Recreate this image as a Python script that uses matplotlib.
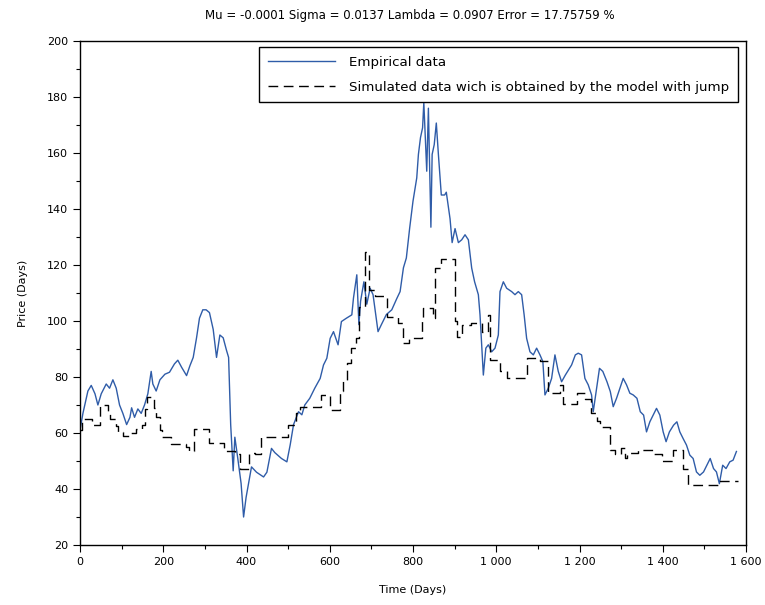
import numpy as np
import matplotlib
matplotlib.use('Agg')
import matplotlib.pyplot as plt
from matplotlib.ticker import MultipleLocator, FuncFormatter

# empirical price series
emp_days = [0, 7, 19, 27, 36, 43, 51, 63, 71, 79, 87, 95, 103, 112, 120, 124, 131, 139, 147, 155,
            163, 171, 175, 183, 192, 204, 215, 227, 235, 244, 256, 264, 272, 280, 287, 295, 303, 311,
            320, 328, 336, 344, 352, 357, 362, 368, 372, 379, 387, 393, 399,
            412, 424, 441, 449, 460, 468, 484, 497, 505, 513, 525, 533, 540, 552, 564, 577, 585, 593,
            601, 609, 620, 628, 640, 653, 657, 665, 670, 674, 682, 689, 697, 704, 716, 724, 736, 749,
            761, 769, 777, 784, 792, 800, 809, 813, 818, 823, 826, 833, 837, 843, 846, 851, 856, 861,
            864, 868, 876, 880, 889, 894, 901, 909, 917, 925, 933, 941, 948, 957, 961, 965, 969, 975,
            981, 989, 997, 1005, 1009, 1017, 1025, 1037, 1045, 1053, 1061, 1067, 1073, 1081, 1089,
            1097, 1105, 1112, 1117, 1125, 1133, 1141, 1149, 1157, 1166, 1181, 1190, 1197, 1205, 1213,
            1221, 1229, 1233, 1240, 1248, 1256, 1266, 1274, 1281, 1289, 1297, 1305, 1313, 1321, 1329,
            1338, 1346, 1354, 1361, 1369, 1377, 1385, 1393, 1401, 1408, 1416, 1426, 1434, 1441, 1449,
            1457, 1465, 1473, 1481, 1489, 1498, 1506, 1514, 1522, 1529, 1536, 1544, 1552, 1561, 1569,
            1577]
emp_price = [61, 67, 75, 77, 74, 70, 74, 77.5, 76, 79, 76, 70, 67, 63, 65.6, 69, 65.6, 68.6, 67, 70,
             74, 82, 77.5, 75, 79, 81, 81.7, 84.7, 86, 83.5, 80.5, 84, 87, 94, 101, 104, 104, 103,
             97, 87, 95, 94, 89.5, 87, 63, 46.5, 58.5, 51, 42, 30, 37,
             47.9, 46, 44.3, 46, 54.5, 53, 50.9, 49.7, 55.8, 63, 67.6, 66.5, 70, 72.4, 76, 79.5, 84.3,
             86.7, 93.8, 96.2, 91.5, 99.8, 101, 102.2, 108.2, 116.5, 98.7, 107, 114, 106, 111.7, 109.4,
             96.2, 98.7, 102.3, 104, 108, 110.5, 119, 122.5, 133.2, 142.8, 151.1, 159.5, 165.5, 169,
             178, 153.5, 176, 133.5, 159.5, 163, 170.7, 159.5, 153.5, 145, 145, 146, 136.5, 128, 133,
             128, 129, 130.8, 129, 118.9, 114, 109.4, 102.2, 91.5, 80.7, 90.3, 91.5, 89, 90.3, 95,
             110.5, 114, 111.7, 110.5, 109.4, 110.5, 109.4, 102.2, 93.8, 89, 87.9, 90.3, 87.9, 85.5,
             73.6, 76, 79.5, 87.9, 82, 78.3, 80.7, 84.3, 87.9, 88.5, 87.9, 79.5, 77.2, 73.6, 67.6,
             74.8, 83.1, 82, 78.3, 74.8, 69.4, 72.4, 76, 79.5, 77.2, 74.2, 73.6, 72.4, 67.6, 66.4,
             60.4, 64, 66.4, 68.8, 66.4, 60.4, 56.9, 60.4, 62.8, 64, 60.4, 58, 55.7, 52.1, 50.9, 46.1,
             44.9, 46.1, 48.5, 50.9, 47.3, 46.1, 41.9, 48.5, 47.3, 49.7, 50.3, 53.4]

# simulated series (model with jump)
sim_days = [0, 5, 30, 47, 67, 71, 87, 91, 103, 121, 135, 150, 155, 160, 178, 183, 191, 197, 219,
            255, 263, 275, 311, 347, 372, 384, 406, 420, 436, 500, 520, 528, 580, 600, 624, 632,
            642, 652, 664, 670, 684, 694, 708, 737, 765, 776, 790, 821, 824, 848, 852, 868, 902,
            906, 918, 940, 966, 981, 985, 1009, 1025, 1073, 1105, 1125, 1153, 1161, 1193, 1213,
            1228, 1241, 1249, 1273, 1285, 1300, 1310, 1315, 1340, 1377, 1397, 1425, 1449, 1461,
            1537, 1581]
sim_price = [61, 65, 63, 70, 68, 65, 62.6, 60.2, 59, 60, 61.4, 63, 68.6, 73, 69, 65.6, 61, 58.5, 56,
             55, 53.5, 61.4, 56.3, 53.7, 52.5, 47.2, 52.7, 52.6, 58.6, 62.9, 67, 69.3, 73.6, 68.2, 75,
             78.9, 85, 90.2, 94, 105, 124.6, 111, 109, 101.5, 99.2, 92, 94, 100, 104.5, 101, 119, 122,
             100, 94.4, 98.6, 99.2, 96, 102, 86, 82, 79.5, 86.7, 85.6, 74.2, 77, 70.4, 74.2, 72, 67,
             64.3, 62, 53.9, 52.6, 54.5, 51, 53, 54, 52.6, 50, 53.9, 47, 41.4, 42.9, 42.9]

title = 'Mu = -0.0001 Sigma = 0.0137 Lambda = 0.0907 Error = 17.75759 %'

plt.rcParams['font.family'] = ['DejaVu Sans']

fig = plt.figure(figsize=(7.65, 6.05), dpi=100)
ax = fig.add_axes([80 / 765, 1 - 545 / 605, 666 / 765, 504 / 605])

ax.plot(emp_days, emp_price, color='#2f5ca8', lw=1.0, label='Empirical data')
ax.plot(sim_days, sim_price, color='black', lw=1.0, drawstyle='steps-post',
        dashes=(7, 4), label='Simulated data wich is obtained by the model with jump')

ax.set_xlim(0, 1600)
ax.set_ylim(20, 200)
ax.xaxis.set_major_locator(MultipleLocator(200))
ax.xaxis.set_minor_locator(MultipleLocator(100))
ax.yaxis.set_major_locator(MultipleLocator(20))
ax.yaxis.set_minor_locator(MultipleLocator(10))
ax.xaxis.set_major_formatter(FuncFormatter(lambda v, p: '{:,}'.format(int(v)).replace(',', ' ')))
ax.tick_params(which='major', direction='out', length=5, width=0.8, labelsize=8, colors='black')
ax.tick_params(which='minor', direction='out', length=3, width=0.8)
for s in ax.spines.values():
    s.set_linewidth(1.0)

ax.set_xlabel('Time (Days)', fontsize=8, labelpad=13)
ax.set_ylabel('Price (Days)', fontsize=8, labelpad=14)
fig.text(0.536, 1 - 15 / 605, title, ha='center', va='center', fontsize=8.5)

leg = ax.legend(loc='upper right', bbox_to_anchor=(0.988, 0.988), borderaxespad=0,
                fancybox=False, edgecolor='black', framealpha=1, fontsize=9.6,
                handlelength=5.0, handletextpad=1.1, labelspacing=0.9, borderpad=0.65)
leg.get_frame().set_linewidth(1.0)

fig.savefig('out.png', dpi=100)
